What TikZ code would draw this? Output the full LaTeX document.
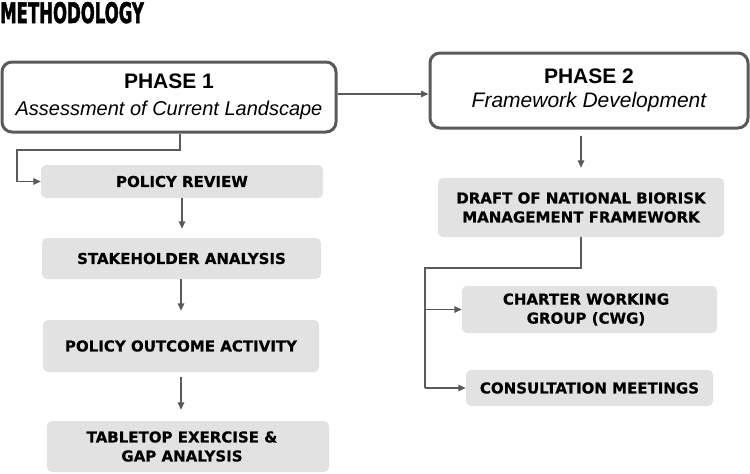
\documentclass[tikz,border=0pt]{standalone}
\usepackage{fontspec}
\usepackage{graphicx}
\setmainfont{Liberation Sans}
\newfontfamily\boxfont[BoldFeatures={FakeBold=0.5}]{DejaVu Sans}
\newfontfamily\titlefont[BoldFeatures={FakeBold=2}]{DejaVu Sans Condensed}
\usetikzlibrary{arrows.meta,calc}
\definecolor{linegray}{HTML}{5A5A5A}
\definecolor{boxgray}{HTML}{E2E2E2}
\tikzset{
  phasebox/.style={draw=linegray, line width=3pt, rounded corners=10pt, fill=white, inner sep=0pt, align=center},
  graybox/.style={fill=boxgray, rounded corners=5pt, inner sep=0pt, align=center, font=\boxfont\bfseries\fontsize{15}{19}\selectfont},
  conn/.style={draw=linegray, line width=1.5pt},
  arr/.style={conn, -{Triangle[length=7.5pt,width=6.5pt]}},
}
\begin{document}
\begin{tikzpicture}[x=1pt,y=-1pt]
\useasboundingbox (0,0) rectangle (750,474);
\node[anchor=base west, inner sep=0pt] (title) at (0,23) {\scalebox{0.68}[1.05]{\titlefont\bfseries\fontsize{27}{27}\selectfont METHODOLOGY}};
% phase boxes
\node[phasebox, minimum width=334pt, minimum height=70pt] (p1) at (169,97)
  {{\bfseries\fontsize{21}{24}\selectfont PHASE 1}\\[11pt]{\itshape\fontsize{20}{24}\selectfont Assessment of Current Landscape}};
\node[phasebox, minimum width=318pt, minimum height=75pt] (p2) at (589,90.5)
  {{\bfseries\fontsize{21}{24}\selectfont PHASE 2}\\[8pt]{\itshape\fontsize{21}{24}\selectfont Framework Development}};
% left column
\node[graybox, minimum width=282pt, minimum height=33pt] (pr) at (182,181.5) {POLICY REVIEW};
\node[graybox, minimum width=279pt, minimum height=41pt] (sa) at (181.5,258.5) {STAKEHOLDER ANALYSIS};
\node[graybox, minimum width=276pt, minimum height=52pt] (poa) at (181,346) {POLICY OUTCOME ACTIVITY};
\node[graybox, minimum width=282pt, minimum height=51pt] (tt) at (188,446.5) {\hspace*{-12pt}TABLETOP EXERCISE \&\\\hspace*{-12pt}GAP ANALYSIS};
% right column
\node[graybox, minimum width=286pt, minimum height=59pt] (dr) at (581,207.5) {DRAFT OF NATIONAL BIORISK\\MANAGEMENT FRAMEWORK};
\node[graybox, minimum width=255pt, minimum height=47pt] (cwg) at (589.5,309.5) {\hspace*{-7pt}CHARTER WORKING\\\hspace*{-7pt}GROUP (CWG)};
\node[graybox, minimum width=247pt, minimum height=36pt] (cm) at (589.5,388) {CONSULTATION MEETINGS};
% connectors
\coordinate (m) at (383,94);
\draw[arr] (m -| p1.east) -- (m -| p2.west);
\coordinate (k) at (17,150);
\draw[arr] ([xshift=11pt]p1.south) |- (k) |- (pr.west);
\draw[arr, shorten >=9pt] (pr.south) -- (pr.south |- sa.north);
\draw[arr, shorten >=9pt] (sa.south -| poa.north) -- (poa.north);
\draw[arr, shorten <=5pt, shorten >=11pt] (poa.south) -- (poa.south |- tt.north);
\draw[arr, shorten <=6pt, shorten >=10pt] (dr.north |- p2.south) -- (dr.north);
\coordinate (j) at (425,268);
\draw[conn] (dr.south) |- (j) -- (j |- cm.west);
\draw[arr] (j |- cwg.west) -- (cwg.west);
\draw[arr] (j |- cm.west) -- (cm.west);
\end{tikzpicture}
\end{document}
